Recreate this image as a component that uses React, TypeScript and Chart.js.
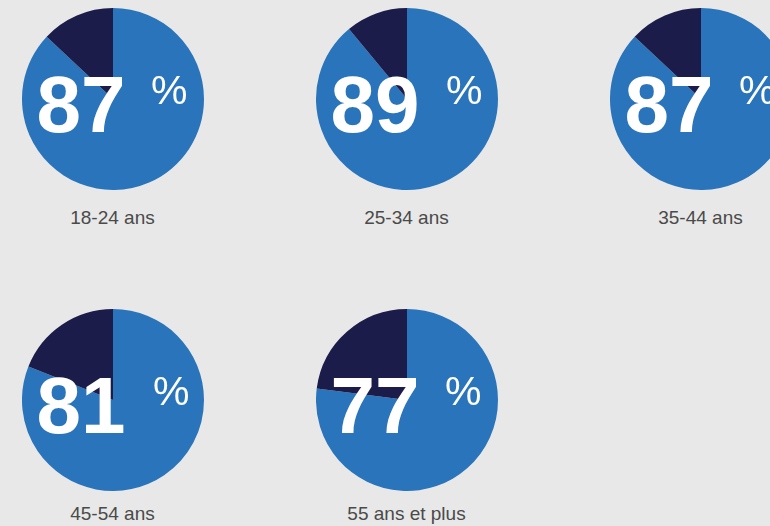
import React, { useEffect, useRef } from "react";
import { Chart, registerables } from "chart.js";

Chart.register(...registerables);

const categories = ["18-24 ans", "25-34 ans", "35-44 ans", "45-54 ans", "55 ans et plus"];
const yesValues = [87, 89, 87, 81, 77];
const otherValues = [13, 11, 13, 19, 23];

const BLUE = "#2974ba";
const NAVY = "#1c1c4b";
const BG = "#e8e8e8";
const R = 91;
const FONT = '"Liberation Sans", Arial, Helvetica, sans-serif';

function Pie({ index }: { index: number }) {
  const ref = useRef<HTMLCanvasElement | null>(null);
  const col = index % 3;
  const row = Math.floor(index / 3);
  const cx = 112.5 + col * 294;
  const cy = 99 + row * 300.5;
  const labelTop = cy + (row === 0 ? 109 : 104);

  useEffect(() => {
    if (!ref.current) return;
    const value = yesValues[index];
    const textPlugin = {
      id: "centerText",
      afterDraw(chart: any) {
        const ctx = chart.ctx;
        ctx.save();
        ctx.fillStyle = "#ffffff";
        ctx.textBaseline = "alphabetic";
        ctx.textAlign = "center";
        ctx.font = `bold 80px ${FONT}`;
        const tx = R - 32;
        ctx.fillText(String(value), tx, R + 33);
        const m = ctx.measureText(String(value));
        const inkRight = tx + m.actualBoundingBoxRight;
        ctx.textAlign = "left";
        ctx.font = `normal 41px ${FONT}`;
        ctx.fillText("%", inkRight + 29, R + 5);
        ctx.restore();
      },
    };
    const chart = new Chart(ref.current, {
      type: "pie",
      data: {
        labels: ["oui", "autre"],
        datasets: [
          {
            data: [yesValues[index], otherValues[index]],
            backgroundColor: [BLUE, NAVY],
            borderWidth: 0,
          },
        ],
      },
      options: {
        responsive: false,
        animation: false,
        layout: { padding: 0 },
        plugins: { legend: { display: false }, tooltip: { enabled: false } },
      },
      plugins: [textPlugin],
    });
    return () => chart.destroy();
  }, [index]);

  return (
    <>
      <canvas
        ref={ref}
        width={2 * R}
        height={2 * R}
        style={{ position: "absolute", left: cx - R, top: cy - R, width: 2 * R, height: 2 * R }}
      />
      <div
        style={{
          position: "absolute",
          left: cx - 120,
          width: 240,
          top: labelTop,
          textAlign: "center",
          fontFamily: FONT,
          fontSize: 19,
          lineHeight: "19px",
          color: "#4a4a4a",
          whiteSpace: "nowrap",
        }}
      >
        {categories[index]}
      </div>
    </>
  );
}

export default function App() {
  useEffect(() => {
    document.body.style.margin = "0";
    document.body.style.background = BG;
    document.body.style.overflow = "hidden";
  }, []);
  return (
    <div
      style={{
        position: "relative",
        width: 770,
        height: 526,
        background: BG,
        overflow: "hidden",
      }}
    >
      {categories.map((_, i) => (
        <Pie key={i} index={i} />
      ))}
    </div>
  );
}
